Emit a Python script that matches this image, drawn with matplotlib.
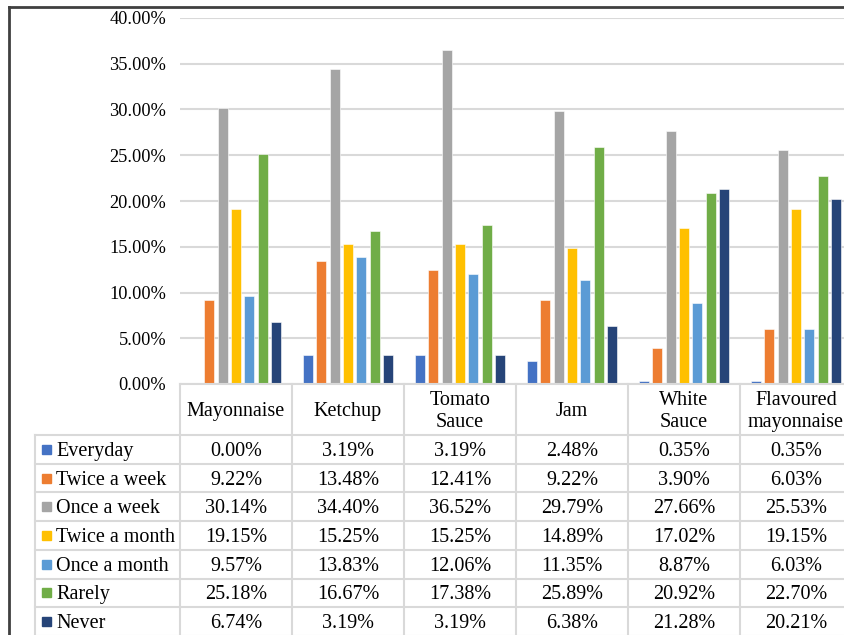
import matplotlib.pyplot as plt
import numpy as np

categories = ["Mayonnaise", "Ketchup", "Tomato\nSauce", "Jam", "White\nSauce", "Flavoured\nmayonnaise"]
series = ["Everyday", "Twice a week", "Once a week", "Twice a month",
          "Once a month", "Rarely", "Never"]
everyday = [0.00, 3.19, 3.19, 2.48, 0.35, 0.35]
twice_week = [9.22, 13.48, 12.41, 9.22, 3.90, 6.03]
once_week = [30.14, 34.40, 36.52, 29.79, 27.66, 25.53]
twice_month = [19.15, 15.25, 15.25, 14.89, 17.02, 19.15]
once_month = [9.57, 13.83, 12.06, 11.35, 8.87, 6.03]
rarely = [25.18, 16.67, 17.38, 25.89, 20.92, 22.70]
never = [6.74, 3.19, 3.19, 6.38, 21.28, 20.21]
values = [everyday, twice_week, once_week, twice_month, once_month, rarely, never]
colors = ["#4472C4", "#ED7D31", "#A5A5A5", "#FFC000", "#5B9BD5", "#70AD47", "#264478"]

W, H = 845, 635
plt.rcParams['font.family'] = ['Liberation Serif', 'DejaVu Serif']
fig = plt.figure(figsize=(W / 100, H / 100), dpi=100)

# plot area in pixel units (origin top-left)
col_w = 112
x0, y_top, y_zero = 180, 18, 384
ax = fig.add_axes([x0 / W, (H - y_zero) / H, 6 * col_w / W, (y_zero - y_top) / H])

n = len(series)
pitch = 0.119
bw = 0.089
x = np.arange(len(categories))
for i, (name, vals) in enumerate(zip(series, values)):
    ax.bar(x + (i - (n - 1) / 2) * pitch, np.array(vals) / 100, width=bw,
           color=colors[i], edgecolor="white", linewidth=0.4, zorder=3)

ax.set_xlim(-0.5, len(categories) - 0.5)
ax.set_ylim(0, 0.40)
ax.set_yticks(np.arange(0, 0.401, 0.05))
ax.set_yticklabels([f"{t * 100:.2f}%" for t in np.arange(0, 0.401, 0.05)], fontsize=13.2)
ax.yaxis.grid(True, color="#d9d9d9", linewidth=1.5, zorder=0)
ax.tick_params(axis="y", length=0, pad=10)
ax.set_xticks([])
for s in ax.spines.values():
    s.set_visible(False)


def fx(px):
    return px / W


def fy(py):
    return 1 - py / H


line_kw = dict(color="#d9d9d9", linewidth=1.5, transform=fig.transFigure)

# data table below the bars
head_bottom = 435
row_h = 28.7
n_rows = len(series)
table_bottom = head_bottom + n_rows * row_h
leg_left = 35
x_right = x0 + 6 * col_w
fs = 14.5
dy = 2  # text sits a little below the cell middle

fig.add_artist(plt.Line2D([fx(x0), fx(x_right)], [fy(y_zero), fy(y_zero)], **line_kw))
for j in range(7):
    xx = x0 + j * col_w
    fig.add_artist(plt.Line2D([fx(xx), fx(xx)], [fy(y_zero), fy(table_bottom)], **line_kw))
fig.add_artist(plt.Line2D([fx(leg_left), fx(leg_left)], [fy(head_bottom), fy(table_bottom)], **line_kw))
for r in range(n_rows + 1):
    yy = head_bottom + r * row_h
    fig.add_artist(plt.Line2D([fx(leg_left), fx(x_right)], [fy(yy), fy(yy)], **line_kw))

for j, cat in enumerate(categories):
    cx = x0 + (j + 0.5) * col_w
    fig.text(fx(cx), fy((y_zero + head_bottom) / 2 + dy), cat, ha="center", va="center",
             fontsize=fs, linespacing=1.2)
    for r, vals in enumerate(values):
        cy = head_bottom + (r + 0.5) * row_h + dy
        fig.text(fx(cx), fy(cy), f"{vals[j]:.2f}%", ha="center", va="center", fontsize=fs)

for r, name in enumerate(series):
    cy = head_bottom + (r + 0.5) * row_h
    fig.add_artist(plt.Rectangle((fx(42), fy(cy + 4.5)), 9 / W, 9 / H, color=colors[r],
                                 transform=fig.transFigure))
    fig.text(fx(56), fy(cy + dy), name, ha="left", va="center", fontsize=fs)

# chart border
border_kw = dict(color="#404040", linewidth=2, transform=fig.transFigure)
fig.add_artist(plt.Line2D([fx(9), fx(W + 5)], [fy(7), fy(7)], **border_kw))
fig.add_artist(plt.Line2D([fx(9), fx(9)], [fy(7), fy(H + 5)], **border_kw))

fig.savefig("out.png", dpi=100)
